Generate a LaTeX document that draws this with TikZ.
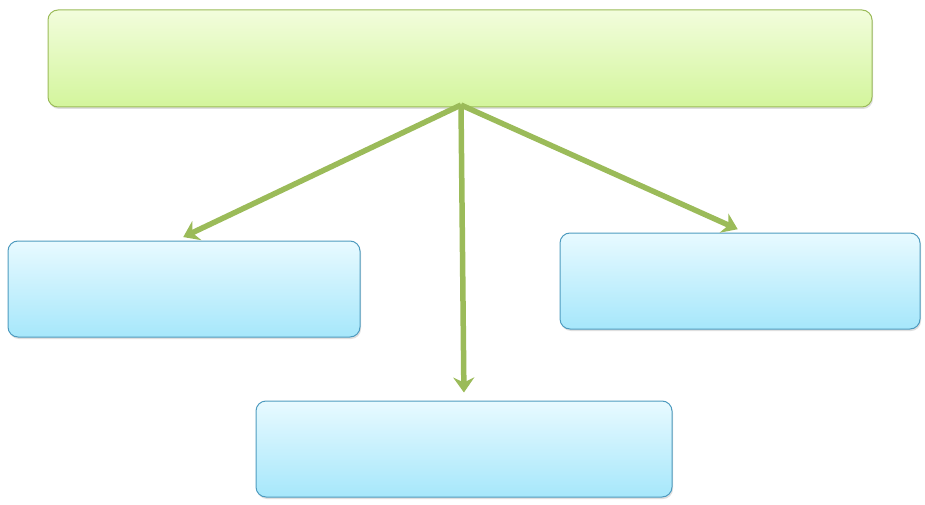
\documentclass[tikz,border=0pt]{standalone}
\usepackage{tikz}
\usetikzlibrary{arrows.meta,shadows}

\definecolor{leafline}{HTML}{9BBB59}
\definecolor{leaftop}{HTML}{F2FDDC}
\definecolor{leafbot}{HTML}{D3F59C}
\definecolor{skyline}{HTML}{4E9BBF}
\definecolor{skytop}{HTML}{E8FAFF}
\definecolor{skybot}{HTML}{A6E7FB}

\begin{document}
\begin{tikzpicture}[x=1pt,y=1pt,
	head/.style={draw=leafline, line width=1pt, rounded corners=10pt, top color=leaftop, bottom color=leafbot,
		drop shadow={shadow xshift=1pt, shadow yshift=-2pt, fill=black!25}, inner sep=0pt},
	leaf/.style={draw=skyline, line width=1pt, rounded corners=10pt, top color=skytop, bottom color=skybot,
		drop shadow={shadow xshift=1pt, shadow yshift=-2pt, fill=black!25}, inner sep=0pt},
	link/.style={draw=leafline, line width=5.5pt, -{Stealth[length=15pt, width=21pt, inset=5pt]}, shorten >=8pt}]
	\useasboundingbox (0,0) rectangle (925,504);

	\node[head, minimum width=824pt, minimum height=97pt] (top) at (460,445.5) {};
	\node[leaf, minimum width=352pt, minimum height=96pt] (left) at (184,215) {};
	\node[leaf, minimum width=416pt, minimum height=96pt] (mid) at (464,55) {};
	\node[leaf, minimum width=360pt, minimum height=96pt] (right) at (740,223) {};
	\coordinate (hub) at (461,399);

	% arrows from the hub under the top box
	\draw[link] (hub) -- ([xshift=-8pt]left.north);
	\draw[link] (hub) -- (mid.north);
	\draw[link] (hub) -- ([xshift=5pt]right.north);
\end{tikzpicture}
\end{document}
